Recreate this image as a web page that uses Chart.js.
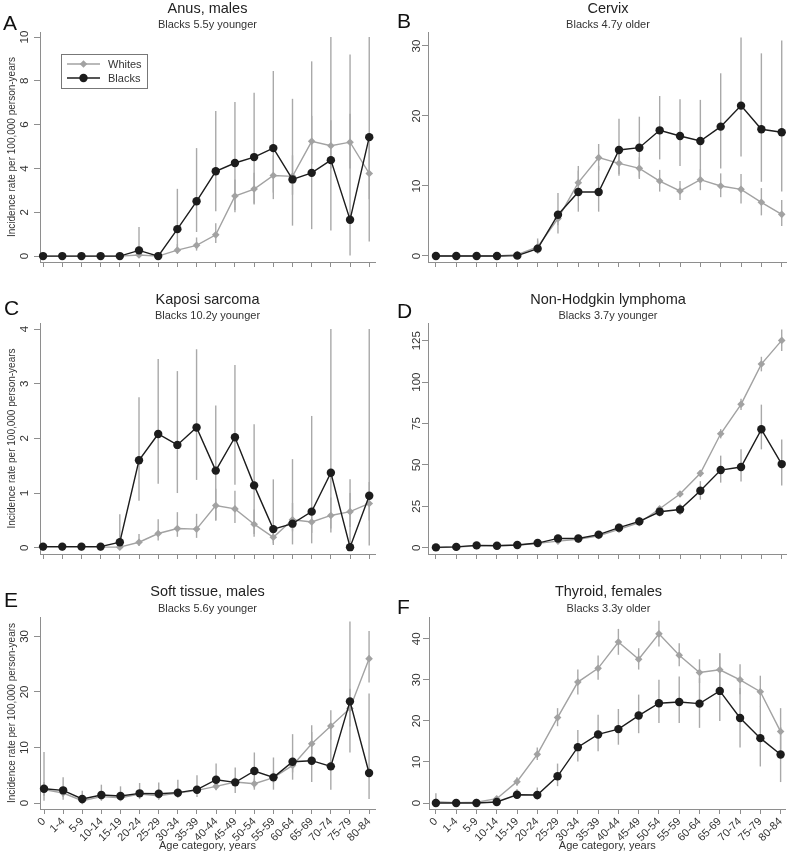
<!DOCTYPE html>
<html>
<head>
<meta charset="utf-8">
<title>Incidence by age, whites vs blacks</title>
<script src="https://cdn.jsdelivr.net/npm/chart.js@4.4.1/dist/chart.umd.min.js"></script>
<style>
  body { margin: 0; background: #fff; width: 791px; height: 853px; position: relative; overflow: hidden;
         font-family: 'Liberation Sans', Arial, sans-serif; color: #222; }
  .cell { position: absolute; }
  .letter { position: absolute; font-size: 21px; line-height: 1; color: #111; }
  .ttl { position: absolute; transform: translate(-50%, -50%); white-space: nowrap; font-size: 14.5px; color: #222; }
  .sub { position: absolute; transform: translate(-50%, -50%); white-space: nowrap; font-size: 11px; color: #333; }
</style>
</head>
<body>
<script>
// age categories shared by every panel
const ageGroups = ['0', '1-4', '5-9', '10-14', '15-19', '20-24', '25-29', '30-34', '35-39',
  '40-44', '45-49', '50-54', '55-59', '60-64', '65-69', '70-74', '75-79', '80-84']

// A - anus, males
const anusWhites   = [0, 0, 0, 0, 0, 0.05, 0, 0.27, 0.49, 0.97, 2.74, 3.06, 3.68, 3.64, 5.24, 5.04, 5.2, 3.77]
const anusWhitesLo = [0, 0, 0, 0, 0, 0, 0, 0.1, 0.25, 0.6, 2.1, 2.4, 2.9, 2.8, 4.2, 4.0, 4.0, 2.6]
const anusWhitesHi = [0, 0, 0, 0, 0, 0.2, 0, 0.55, 0.85, 1.5, 3.5, 3.8, 4.6, 4.6, 6.4, 6.2, 6.5, 5.1]
const anusBlacks   = [0, 0, 0, 0, 0, 0.26, 0, 1.23, 2.5, 3.87, 4.25, 4.52, 4.93, 3.5, 3.8, 4.38, 1.66, 5.43]
const anusBlacksLo = [0, 0, 0, 0, 0, 0, 0, 0.3, 1.1, 2.05, 2.0, 2.36, 2.6, 1.39, 1.23, 1.17, 0.03, 0.67]
const anusBlacksHi = [0, 0, 0, 0, 0, 1.33, 0, 3.07, 4.93, 6.62, 7.03, 7.46, 8.45, 7.18, 8.89, 10, 9.2, 10]
const anusTicks = [0, 2, 4, 6, 8, 10]

// B - cervix
const cervixWhites   = [0, 0, 0, 0, 0.2, 1.3, 5.34, 10.48, 14.05, 13.24, 12.52, 10.71, 9.29, 10.9, 10.0, 9.52, 7.67, 5.95]
const cervixWhitesLo = [0, 0, 0, 0, 0.05, 0.7, 4.4, 9.0, 12.2, 11.7, 11.0, 9.2, 8.0, 9.4, 8.4, 7.5, 5.8, 4.3]
const cervixWhitesHi = [0, 0, 0, 0, 0.4, 2.5, 6.4, 12.2, 16.0, 14.9, 14.1, 12.3, 10.7, 12.4, 11.8, 11.7, 9.7, 8.0]
const cervixBlacks   = [0, 0, 0, 0, 0.05, 1.05, 5.9, 9.14, 9.14, 15.14, 15.47, 17.95, 17.14, 16.43, 18.48, 21.48, 18.1, 17.67]
const cervixBlacksLo = [0, 0, 0, 0, 0, 0.3, 3.2, 6.33, 6.33, 11.48, 11.2, 13.8, 12.86, 11.3, 12.5, 14.2, 10.6, 9.2]
const cervixBlacksHi = [0, 0, 0, 0, 0.3, 2.2, 9.0, 12.86, 12.86, 19.6, 19.9, 22.86, 22.4, 22.3, 26.1, 31.2, 28.95, 30.8]
const cervixTicks = [0, 10, 20, 30]

// C - Kaposi sarcoma
const kaposiWhites   = [0.01, 0.01, 0.01, 0.01, 0.01, 0.1, 0.26, 0.35, 0.34, 0.77, 0.71, 0.43, 0.19, 0.51, 0.47, 0.59, 0.66, 0.81]
const kaposiWhitesLo = [0, 0, 0, 0, 0, 0.03, 0.13, 0.2, 0.18, 0.5, 0.45, 0.25, 0.08, 0.3, 0.27, 0.35, 0.38, 0.5]
const kaposiWhitesHi = [0.05, 0.05, 0.05, 0.05, 0.05, 0.25, 0.52, 0.65, 0.62, 1.08, 1.04, 0.7, 0.4, 0.82, 0.75, 0.92, 1.0, 1.2]
const kaposiBlacks   = [0.02, 0.02, 0.02, 0.02, 0.1, 1.6, 2.08, 1.88, 2.2, 1.41, 2.02, 1.14, 0.34, 0.44, 0.66, 1.37, 0.01, 0.95]
const kaposiBlacksLo = [0, 0, 0, 0, 0, 0.86, 1.17, 1.0, 1.24, 0.5, 1.15, 0.2, 0.05, 0.06, 0.08, 0.28, 0, 0.04]
const kaposiBlacksHi = [0.05, 0.05, 0.05, 0.05, 0.61, 2.75, 3.45, 3.23, 3.63, 2.6, 3.34, 2.26, 1.25, 1.62, 2.41, 4, 1.25, 4]
const kaposiTicks = [0, 1, 2, 3, 4]

// D - non-Hodgkin lymphoma
const nhlWhites   = [0.1, 0.4, 1.2, 1.3, 1.5, 2.6, 4.0, 5.0, 7.2, 11.1, 15.1, 23.5, 32.4, 44.9, 68.8, 86.6, 110.9, 125.2]
const nhlWhitesLo = [0, 0.2, 0.9, 1.0, 1.2, 2.2, 3.5, 4.5, 6.6, 10.3, 14.2, 22.3, 30.8, 42.9, 66.0, 83.2, 106.5, 118.8]
const nhlWhitesHi = [0.3, 0.6, 1.5, 1.6, 1.8, 3.0, 4.5, 5.5, 7.8, 11.9, 16.0, 24.7, 34.0, 46.9, 71.6, 90.0, 115.3, 131.8]
const nhlBlacks   = [0.2, 0.5, 1.4, 1.2, 1.6, 2.8, 5.6, 5.6, 7.9, 12.1, 15.9, 21.7, 23.1, 34.4, 46.9, 48.7, 71.5, 50.5]
const nhlBlacksLo = [0, 0.1, 0.6, 0.5, 0.8, 1.7, 4.0, 4.1, 6.1, 9.9, 13.4, 18.8, 19.7, 29.0, 39.3, 40.0, 59.4, 37.6]
const nhlBlacksHi = [0.8, 1.2, 2.4, 2.1, 2.6, 4.1, 7.4, 7.3, 9.9, 14.5, 18.6, 24.8, 26.6, 40.2, 55.6, 59.4, 86.4, 65.4]
const nhlTicks = [0, 25, 50, 75, 100, 125]

// E - soft tissue, males
const softWhites   = [2.4, 1.8, 0.42, 1.14, 0.96, 1.62, 1.32, 1.8, 2.28, 3.0, 3.78, 3.48, 4.56, 6.78, 10.68, 13.86, 17.04, 26.0]
const softWhitesLo = [1.3, 1.1, 0.1, 0.7, 0.55, 1.1, 0.85, 1.25, 1.7, 2.3, 3.0, 2.7, 3.6, 5.5, 8.8, 11.4, 13.8, 21.7]
const softWhitesHi = [3.8, 2.8, 0.9, 1.7, 1.5, 2.3, 1.95, 2.5, 3.0, 3.9, 4.7, 4.4, 5.7, 8.2, 12.8, 16.7, 20.6, 31.0]
const softBlacks   = [2.58, 2.28, 0.72, 1.44, 1.26, 1.74, 1.68, 1.86, 2.4, 4.2, 3.72, 5.76, 4.62, 7.44, 7.62, 6.6, 18.3, 5.4]
const softBlacksLo = [0.42, 0.6, 0.05, 0.4, 0.35, 0.7, 0.6, 0.9, 1.1, 2.4, 1.8, 2.4, 2.4, 4.2, 3.8, 2.4, 9.1, 0.7]
const softBlacksHi = [9.18, 4.62, 2.2, 3.3, 3.0, 3.6, 3.7, 4.2, 5.0, 7.1, 6.4, 9.1, 8.2, 12.4, 14.0, 13.4, 32.7, 19.7]
const softTicks = [0, 10, 20, 30]

// F - thyroid, females
const thyroidWhites   = [0.3, 0.1, 0.2, 1.05, 5.2, 11.85, 20.8, 29.45, 32.8, 39.2, 35.0, 41.2, 36.0, 31.8, 32.45, 30.0, 27.1, 17.4]
const thyroidWhitesLo = [0, 0, 0, 0.6, 4.2, 10.5, 18.7, 26.4, 30.0, 36.1, 32.5, 38.1, 33.3, 29.2, 28.4, 26.5, 23.4, 13.0]
const thyroidWhitesHi = [2.4, 0.4, 0.6, 1.6, 6.3, 13.5, 23.1, 32.5, 35.9, 42.4, 37.7, 44.4, 38.9, 35.0, 36.5, 33.8, 31.0, 23.1]
const thyroidBlacks   = [0, 0, 0, 0.25, 2.0, 1.95, 6.5, 13.6, 16.7, 18.0, 21.3, 24.3, 24.6, 24.2, 27.3, 20.7, 15.8, 11.8]
const thyroidBlacksLo = [0, 0, 0, 0, 1.0, 0.8, 4.1, 10.1, 12.6, 14.2, 17.0, 19.5, 19.5, 18.3, 20.0, 13.5, 8.9, 5.1]
const thyroidBlacksHi = [0.5, 0.3, 0.3, 0.8, 3.4, 3.8, 9.6, 17.8, 21.5, 22.9, 26.4, 30.0, 30.8, 30.4, 36.4, 28.0, 23.5, 18.5]
const thyroidTicks = [0, 10, 20, 30, 40]

const FONT = "'Liberation Sans', Arial, sans-serif"
const AXIS = '#8e8e8e'
const TEXT = '#333'
const WHITE_C = '#a2a2a2'
const BLACK_C = '#1c1c1c'
const BAR_C = '#a9a9a9'

Chart.defaults.font.family = FONT
Chart.defaults.color = TEXT

// panel layout: box = canvas position on the page, area = plot area in page px
const panels = [
  { letter: 'A', letterAt: [3, 12], title: 'Anus, males', subtitle: 'Blacks 5.5y younger', titleY: 8, subY: 24,
    whites: anusWhites, whitesLo: anusWhitesLo, whitesHi: anusWhitesHi,
    blacks: anusBlacks, blacksLo: anusBlacksLo, blacksHi: anusBlacksHi, yTicks: anusTicks,
    yMin: -0.27, yMax: 10.23, xMin: -0.16, xMax: 17.3,
    box: { left: 0, top: 0, width: 395, height: 280 }, area: { left: 40, right: 375, top: 32, bottom: 262 },
    yTitle: true, xLabels: false, legend: true, tickGap: 15 },
  { letter: 'B', letterAt: [397, 10], title: 'Cervix', subtitle: 'Blacks 4.7y older', titleY: 8, subY: 24,
    whites: cervixWhites, whitesLo: cervixWhitesLo, whitesHi: cervixWhitesHi,
    blacks: cervixBlacks, blacksLo: cervixBlacksLo, blacksHi: cervixBlacksHi, yTicks: cervixTicks,
    yMin: -0.86, yMax: 32, xMin: -0.39, xMax: 17.25,
    box: { left: 395, top: 0, width: 396, height: 280 }, area: { left: 428, right: 788, top: 32, bottom: 262 },
    yTitle: false, xLabels: false, legend: false, tickGap: 11.5 },
  { letter: 'C', letterAt: [4, 297], title: 'Kaposi sarcoma', subtitle: 'Blacks 10.2y younger', titleY: 299, subY: 315,
    whites: kaposiWhites, whitesLo: kaposiWhitesLo, whitesHi: kaposiWhitesHi,
    blacks: kaposiBlacks, blacksLo: kaposiBlacksLo, blacksHi: kaposiBlacksHi, yTicks: kaposiTicks,
    yMin: -0.115, yMax: 4.11, xMin: -0.16, xMax: 17.3,
    box: { left: 0, top: 280, width: 395, height: 280 }, area: { left: 40, right: 375, top: 323, bottom: 554 },
    yTitle: true, xLabels: false, legend: false, tickGap: 15 },
  { letter: 'D', letterAt: [397, 300], title: 'Non-Hodgkin lymphoma', subtitle: 'Blacks 3.7y younger', titleY: 299, subY: 315,
    whites: nhlWhites, whitesLo: nhlWhitesLo, whitesHi: nhlWhitesHi,
    blacks: nhlBlacks, blacksLo: nhlBlacksLo, blacksHi: nhlBlacksHi, yTicks: nhlTicks,
    yMin: -3.8, yMax: 135.7, xMin: -0.39, xMax: 17.25,
    box: { left: 395, top: 280, width: 396, height: 280 }, area: { left: 428, right: 788, top: 323, bottom: 554 },
    yTitle: false, xLabels: false, legend: false, tickGap: 11.5 },
  { letter: 'E', letterAt: [4, 589], title: 'Soft tissue, males', subtitle: 'Blacks 5.6y younger', titleY: 591, subY: 608,
    whites: softWhites, whitesLo: softWhitesLo, whitesHi: softWhitesHi,
    blacks: softBlacks, blacksLo: softBlacksLo, blacksHi: softBlacksHi, yTicks: softTicks,
    yMin: -1.08, yMax: 33.5, xMin: -0.21, xMax: 17.31,
    box: { left: 0, top: 560, width: 395, height: 293 }, area: { left: 40, right: 375, top: 617, bottom: 809 },
    yTitle: true, xLabels: true, legend: false, tickGap: 15 },
  { letter: 'F', letterAt: [397, 596], title: 'Thyroid, females', subtitle: 'Blacks 3.3y older', titleY: 591, subY: 608,
    whites: thyroidWhites, whitesLo: thyroidWhitesLo, whitesHi: thyroidWhitesHi,
    blacks: thyroidBlacks, blacksLo: thyroidBlacksLo, blacksHi: thyroidBlacksHi, yTicks: thyroidTicks,
    yMin: -1.46, yMax: 45.3, xMin: -0.34, xMax: 17.25,
    box: { left: 395, top: 560, width: 396, height: 293 }, area: { left: 429, right: 788, top: 617, bottom: 809 },
    yTitle: false, xLabels: true, legend: false, tickGap: 12 }
]

// vertical confidence interval lines, drawn under the series
const errorBars = {
  id: 'errorBars',
  beforeDatasetsDraw(chart, args, opts) {
    const { ctx, scales: { x, y } } = chart
    ctx.save()
    ctx.strokeStyle = opts.color
    ctx.lineWidth = opts.width
    chart.data.datasets.forEach(ds => {
      ds.lo.forEach((lo, i) => {
        const px = x.getPixelForValue(i)
        ctx.beginPath()
        ctx.moveTo(px, y.getPixelForValue(lo))
        ctx.lineTo(px, y.getPixelForValue(ds.hi[i]))
        ctx.stroke()
      })
    })
    ctx.restore()
  }
}

// y tick labels turned 90 degrees, like the original figure
const rotatedYTicks = {
  id: 'rotatedYTicks',
  afterDraw(chart, args, opts) {
    const { ctx, chartArea, scales: { y } } = chart
    ctx.save()
    ctx.fillStyle = TEXT
    ctx.font = '11.5px ' + FONT
    ctx.textAlign = 'center'
    ctx.textBaseline = 'middle'
    y.ticks.forEach((t, i) => {
      ctx.save()
      ctx.translate(chartArea.left - opts.gap, y.getPixelForTick(i))
      ctx.rotate(-Math.PI / 2)
      ctx.fillText(t.label, 0, 0)
      ctx.restore()
    })
    ctx.restore()
  }
}

function drawMarker(ctx, style, x, y, r, color) {
  ctx.fillStyle = color
  ctx.beginPath()
  if (style === 'rectRot') {
    ctx.moveTo(x - r, y); ctx.lineTo(x, y - r); ctx.lineTo(x + r, y); ctx.lineTo(x, y + r)
    ctx.closePath()
  } else {
    ctx.arc(x, y, r, 0, Math.PI * 2)
  }
  ctx.fill()
}

// boxed legend sitting inside the plot area (panel A only)
const boxLegend = {
  id: 'boxLegend',
  afterDraw(chart, args, opts) {
    if (!opts.show) return
    const { ctx, chartArea } = chart
    const x0 = chartArea.left + 21, y0 = chartArea.top + 22
    ctx.save()
    ctx.strokeStyle = '#777'
    ctx.lineWidth = 1
    ctx.strokeRect(x0 + 0.5, y0 + 0.5, 86, 34)
    // whites first, blacks second, as in the figure
    const order = [chart.data.datasets[1], chart.data.datasets[0]]
    order.forEach((ds, k) => {
      const ly = y0 + 10 + k * 14
      ctx.strokeStyle = ds.borderColor
      ctx.lineWidth = 1.4
      ctx.beginPath(); ctx.moveTo(x0 + 6, ly); ctx.lineTo(x0 + 39, ly); ctx.stroke()
      drawMarker(ctx, ds.pointStyle, x0 + 22.5, ly, ds.pointRadius, ds.pointBackgroundColor)
      ctx.fillStyle = TEXT
      ctx.font = '11px ' + FONT
      ctx.textAlign = 'left'
      ctx.textBaseline = 'middle'
      ctx.fillText(ds.label, x0 + 47, ly + 0.5)
    })
    ctx.restore()
  }
}

const toPoints = arr => arr.map((v, i) => ({ x: i, y: v }))

function addText(cls, text, x, y) {
  const d = document.createElement('div')
  d.className = cls
  d.textContent = text
  d.style.left = x + 'px'
  d.style.top = y + 'px'
  document.body.appendChild(d)
}

panels.forEach(p => {
  const b = p.box
  const cell = document.createElement('div')
  cell.className = 'cell'
  Object.assign(cell.style, { left: b.left + 'px', top: b.top + 'px', width: b.width + 'px', height: b.height + 'px' })
  const canvas = document.createElement('canvas')
  cell.appendChild(canvas)
  document.body.appendChild(cell)

  const areaLeft = p.area.left - b.left
  const areaRight = p.area.right - b.left
  const areaTop = p.area.top - b.top
  const areaBottom = p.area.bottom - b.top

  new Chart(canvas, {
    type: 'line',
    data: {
      datasets: [
        { label: 'Blacks', data: toPoints(p.blacks), lo: p.blacksLo, hi: p.blacksHi,
          borderColor: BLACK_C, backgroundColor: BLACK_C, borderWidth: 1.4,
          pointStyle: 'circle', pointRadius: 4.2, pointBorderWidth: 0, pointBackgroundColor: BLACK_C,
          clip: false, tension: 0 },
        { label: 'Whites', data: toPoints(p.whites), lo: p.whitesLo, hi: p.whitesHi,
          borderColor: WHITE_C, backgroundColor: WHITE_C, borderWidth: 1.4,
          pointStyle: 'rectRot', pointRadius: 3.8, pointBorderWidth: 0, pointBackgroundColor: WHITE_C,
          clip: false, tension: 0 }
      ]
    },
    options: {
      responsive: true,
      maintainAspectRatio: false,
      animation: false,
      events: [],
      layout: { padding: { top: areaTop, right: b.width - areaRight, left: 0, bottom: 0 } },
      plugins: {
        legend: { display: false },
        tooltip: { enabled: false },
        errorBars: { color: BAR_C, width: 1.4 },
        rotatedYTicks: { gap: p.tickGap },
        boxLegend: { show: p.legend }
      },
      scales: {
        x: {
          type: 'linear',
          min: p.xMin,
          max: p.xMax,
          afterBuildTicks: s => { s.ticks = ageGroups.map((_, i) => ({ value: i })) },
          afterFit: s => { s.height = b.height - areaBottom },
          border: { display: true, color: AXIS, width: 1 },
          grid: { drawOnChartArea: false, drawTicks: true, tickLength: 5, color: AXIS },
          ticks: {
            display: p.xLabels, autoSkip: false, minRotation: 45, maxRotation: 45, padding: 1,
            font: { size: 11 }, color: TEXT,
            callback: v => ageGroups[v]
          },
          title: { display: p.xLabels, text: 'Age category, years', font: { size: 11 }, color: TEXT,
                   padding: { top: 0, bottom: 0 } }
        },
        y: {
          type: 'linear',
          min: p.yMin,
          max: p.yMax,
          afterBuildTicks: s => { s.ticks = p.yTicks.map(v => ({ value: v })) },
          afterFit: s => { s.width = areaLeft },
          border: { display: true, color: AXIS, width: 1 },
          grid: { drawOnChartArea: false, drawTicks: true, tickLength: 6, color: AXIS },
          ticks: { display: false },
          title: { display: p.yTitle, text: 'Incidence rate per 100,000 person-years',
                   font: { size: 10 }, color: TEXT, padding: { top: 6, bottom: 0 } }
        }
      }
    },
    plugins: [errorBars, rotatedYTicks, boxLegend]
  })

  const mid = (p.area.left + p.area.right) / 2
  addText('ttl', p.title, mid, p.titleY)
  addText('sub', p.subtitle, mid, p.subY)
  addText('letter', p.letter, p.letterAt[0], p.letterAt[1])
})
</script>
</body>
</html>
